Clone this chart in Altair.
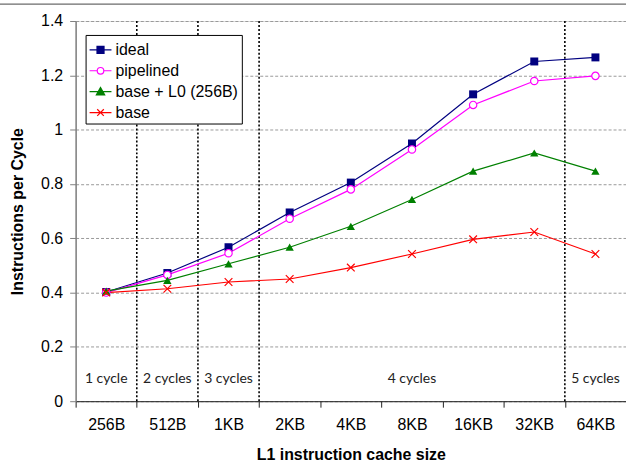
import altair as alt
import pandas as pd

categories = ["256B", "512B", "1KB", "2KB", "4KB", "8KB", "16KB", "32KB", "64KB"]
series_names = ["ideal", "pipelined", "base + L0 (256B)", "base"]
ideal = [0.402, 0.472, 0.567, 0.695, 0.805, 0.949, 1.130, 1.251, 1.266]
pipelined = [0.400, 0.465, 0.545, 0.672, 0.780, 0.927, 1.091, 1.179, 1.198]
base_l0 = [0.405, 0.445, 0.506, 0.567, 0.644, 0.743, 0.847, 0.914, 0.847]
base = [0.400, 0.414, 0.439, 0.450, 0.492, 0.542, 0.596, 0.623, 0.542]
divider_after = ["256B", "512B", "1KB", "32KB"]
cycle_labels = ["1 cycle", "2 cycles", "3 cycles", "4 cycles", "5 cycles"]
cycle_label_at = ["256B", "512B", "1KB", "8KB", "64KB"]
cycle_label_y = 0.08
y_ticks = [0, 0.2, 0.4, 0.6, 0.8, 1.0, 1.2, 1.4]

colors = ["#000080", "#ff00ff", "#008000", "#ff0000"]
fills = ["#000080", "white", "#008000", "transparent"]
# legend symbols: line with marker (unit coords)
legend_shapes = [
    "M-1,0H-0.32M0.32,0H1M-0.32,-0.32H0.32V0.32H-0.32Z",
    "M-1,0H-0.3M0.3,0H1M0.3,0A0.3,0.3 0 1,1 -0.3,0A0.3,0.3 0 1,1 0.3,0Z",
    "M-1,0H1M0,-0.38L0.38,0.3L-0.38,0.3Z",
    "M-1,0H1M-0.3,-0.3L0.3,0.3M0.3,-0.3L-0.3,0.3",
]

rows = []
for name, vals in zip(series_names, [ideal, pipelined, base_l0, base]):
    for i, (c, v) in enumerate(zip(categories, vals)):
        rows.append({"series": name, "cat": c, "idx": i, "value": v})
df = pd.DataFrame(rows)

div_df = pd.DataFrame({"pos": [categories.index(c) + 0.5 for c in divider_after]})
lab_df = pd.DataFrame({"label": cycle_labels,
                       "pos": [categories.index(c) for c in cycle_label_at],
                       "y": [cycle_label_y] * len(cycle_labels)})

FONT = "Liberation Sans"
W, H = 553, 382
n = len(categories)
label_expr = "[" + ",".join("'%s'" % c for c in categories) + "][round(datum.value + 0.5)]"

x_scale = alt.Scale(domain=[-0.5, n - 0.5], nice=False, zero=False)
y_scale = alt.Scale(domain=[0, 1.4], nice=False)

x_axis = alt.Axis(values=[i - 0.5 for i in range(n)], labelExpr=label_expr,
                  labelOffset=W / n / 2, tickSize=6, tickColor="#222", domainColor="#222",
                  labelFont=FONT, labelFontSize=16, labelColor="black", labelPadding=9,
                  labelOverlap=False, labelFlush=False, labelBound=False, grid=False,
                  title="L1 instruction cache size", titleFont=FONT, titleFontSize=16,
                  titleFontWeight="bold", titleColor="black", titleY=54, titleBaseline="middle")
y_axis = alt.Axis(values=y_ticks, format="~f", tickSize=6, tickColor="#808080",
                  domainColor="#808080", domainWidth=1.5,
                  labelFont=FONT, labelFontSize=16, labelColor="black", labelPadding=7,
                  grid=True, gridColor="#999999", gridDash=[3, 2], gridWidth=1,
                  title="Instructions per Cycle", titleFont=FONT, titleFontSize=16,
                  titleFontWeight="bold", titleColor="black", titleX=-58, titleY=H / 2,
                  titleBaseline="middle", titleAngle=-90)

base_chart = alt.Chart(df)

dividers = alt.Chart(div_df).mark_rule(color="black", strokeWidth=1.6, strokeDash=[2, 2]).encode(
    x=alt.X("pos:Q", scale=x_scale, axis=x_axis),
    y=alt.value(0), y2=alt.value(H),
)

axis_anchor = base_chart.mark_point(opacity=0).encode(
    x=alt.X("idx:Q", scale=x_scale, axis=x_axis),
    y=alt.Y("value:Q", scale=y_scale, axis=y_axis),
)

texts = alt.Chart(lab_df).mark_text(font="Lato", fontSize=14, color="#222", baseline="middle").encode(
    x=alt.X("pos:Q", scale=x_scale),
    y=alt.Y("y:Q", scale=y_scale),
    text="label:N",
)

pt_specs = [
    ("ideal", dict(shape="square", filled=True, color=colors[0], size=64)),
    ("pipelined", dict(shape="circle", filled=False, stroke=colors[1], fill="white", size=55, strokeWidth=1.2)),
    ("base + L0 (256B)", dict(shape="triangle-up", filled=True, color=colors[2], size=70)),
    ("base", dict(shape="M-1,-1L1,1M1,-1L-1,1", filled=False, stroke=colors[3], size=60, strokeWidth=1.2)),
]
line_layers = []
point_layers = []
for (name, kw), col in zip(pt_specs, colors):
    sub = base_chart.transform_filter(alt.datum.series == name)
    line_layers.append(
        sub.mark_line(strokeWidth=1.2, color=col).encode(
            x=alt.X("idx:Q", scale=x_scale),
            y=alt.Y("value:Q", scale=y_scale),
        )
    )
    point_layers.append(
        sub.mark_point(opacity=1, **kw).encode(
            x=alt.X("idx:Q", scale=x_scale),
            y=alt.Y("value:Q", scale=y_scale),
        )
    )

legend_layer = base_chart.transform_filter("false").mark_point(filled=False, opacity=1).encode(
    x=alt.X("idx:Q", scale=x_scale),
    y=alt.Y("value:Q", scale=y_scale),
    stroke=alt.Stroke("series:N", scale=alt.Scale(domain=series_names, range=colors),
                      legend=alt.Legend(orient="none", legendX=10, legendY=14, title=None,
                                        strokeColor="black", fillColor="white", padding=3,
                                        labelFont=FONT, labelFontSize=16, labelColor="black",
                                        symbolSize=484, symbolStrokeWidth=1.2, rowPadding=1,
                                        labelOffset=3, symbolOpacity=1)),
    fill=alt.Fill("series:N", scale=alt.Scale(domain=series_names, range=fills)),
    shape=alt.Shape("series:N", scale=alt.Scale(domain=series_names, range=legend_shapes)),
)

frame_line = alt.Chart(pd.DataFrame({"a": [0]})).mark_rule(color="#444", strokeWidth=1).encode(
    x=alt.value(-76), x2=alt.value(W + 10), y=alt.value(-17)
)

chart = alt.layer(axis_anchor, dividers, *line_layers, *point_layers, texts, legend_layer, frame_line).properties(
    width=W, height=H,
    autosize=alt.AutoSizeParams(type="none"),
    padding={"left": 76, "top": 20, "right": 0, "bottom": 63},
).configure_view(stroke=None).configure(background="white")

chart.save("out.html", embed_options={"renderer": "svg", "actions": False})
